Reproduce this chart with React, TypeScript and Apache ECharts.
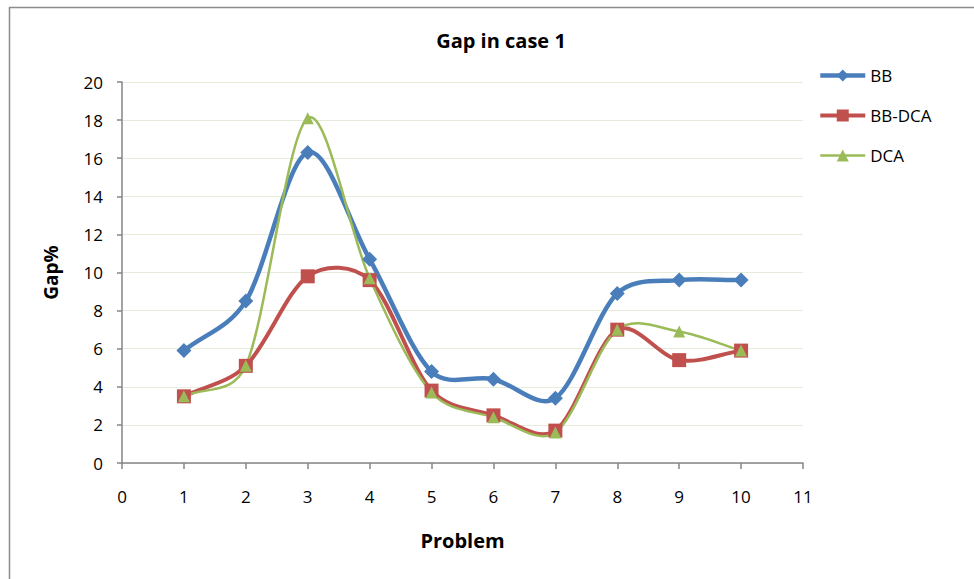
import React, { useEffect, useRef } from "react";
import * as echarts from "echarts";

const problems = [1, 2, 3, 4, 5, 6, 7, 8, 9, 10];
const bbValues = [5.9, 8.5, 16.3, 10.7, 4.8, 4.4, 3.4, 8.9, 9.6, 9.6];
const bbDcaValues = [3.5, 5.1, 9.8, 9.6, 3.8, 2.5, 1.7, 7.0, 5.4, 5.9];
const dcaValues = [3.5, 5.1, 18.1, 9.7, 3.7, 2.4, 1.6, 7.0, 6.9, 5.9];
const seriesNames = ["BB", "BB-DCA", "DCA"];

const FONT = "'Open Sans', sans-serif";
const COLORS = ["#4a7ebb", "#c0504d", "#9bbb59"];
const WIDTHS = [4.5, 4, 2.5];
const SYMBOLS = ["diamond", "rect", "triangle"];
const SIZES = [15, 14, 12];

function dist(a: number[], b: number[]) {
  return Math.hypot(b[0] - a[0], b[1] - a[1]);
}

function curveSeries(name: string, vals: number[], color: string, width: number) {
  return {
    name: name + "-curve",
    type: "custom",
    z: 1,
    silent: true,
    data: problems.map((p, i) => [p, vals[i]]),
    encode: { x: 0, y: 1 },
    renderItem: (params: any, api: any) => {
      if (params.dataIndex !== 0) return null;
      const pts = problems.map((p, i) => api.coord([p, vals[i]]));
      const n = pts.length;
      let d = `M${pts[0][0]},${pts[0][1]}`;
      for (let i = 0; i < n - 1; i++) {
        const p0 = pts[Math.max(0, i - 1)];
        const p1 = pts[i];
        const p2 = pts[i + 1];
        const p3 = pts[Math.min(n - 1, i + 2)];
        const d01 = dist(p0, p1);
        const d12 = dist(p1, p2);
        const d23 = dist(p2, p3);
        const f1 = d01 + d12 > 0 ? Math.min(1, Math.sqrt((2 * d12) / (d01 + d12))) / 6 : 1 / 6;
        const f2 = d12 + d23 > 0 ? Math.min(1, Math.sqrt((2 * d12) / (d12 + d23))) / 6 : 1 / 6;
        const e1 = i === 0 ? 2 : 1;
        const e2 = i + 2 > n - 1 ? 2 : 1;
        const c1x = p1[0] + (p2[0] - p0[0]) * f1 * e1;
        const c1y = p1[1] + (p2[1] - p0[1]) * f1 * e1;
        const c2x = p2[0] - (p3[0] - p1[0]) * f2 * e2;
        const c2y = p2[1] - (p3[1] - p1[1]) * f2 * e2;
        d += ` C${c1x},${c1y} ${c2x},${c2y} ${p2[0]},${p2[1]}`;
      }
      return {
        type: "path",
        shape: { pathData: d },
        style: { fill: "none", stroke: color, lineWidth: width, lineJoin: "round", lineCap: "round" },
      };
    },
  };
}

function markerSeries(idx: number, vals: number[]) {
  return {
    name: seriesNames[idx],
    type: "line",
    z: 3,
    data: problems.map((p, i) => [p, vals[i]]),
    symbol: SYMBOLS[idx],
    symbolSize: SIZES[idx],
    itemStyle: { color: COLORS[idx] },
    lineStyle: { color: COLORS[idx], width: WIDTHS[idx], opacity: 0 },
  };
}

export default function App() {
  const ref = useRef<HTMLDivElement>(null);
  useEffect(() => {
    if (!ref.current) return;
    const chart = echarts.init(ref.current, undefined, { renderer: "svg" });
    const allVals = [bbValues, bbDcaValues, dcaValues];
    chart.setOption({
      animation: false,
      backgroundColor: "#ffffff",
      textStyle: { fontFamily: FONT },
      title: {
        text: "Gap in case 1",
        left: 496,
        textAlign: "center",
        top: 25,
        textStyle: { fontFamily: FONT, fontSize: 20, fontWeight: "bold", color: "#000" },
      },
      graphic: [
        {
          type: "rect",
          shape: { x: 9.5, y: 7.5, width: 1000, height: 1000 },
          style: { fill: "none", stroke: "#8c8c8c", lineWidth: 1.5 },
          silent: true,
        },
      ],
      legend: {
        orient: "vertical",
        left: 818,
        top: 67,
        padding: 0,
        itemWidth: 45,
        itemHeight: 15,
        itemGap: 23,
        textStyle: { fontFamily: FONT, fontSize: 17, color: "#000" },
        data: seriesNames.map((n, i) => ({
          name: n,
          lineStyle: { color: COLORS[i], width: WIDTHS[i], opacity: 1 },
          itemStyle: { color: COLORS[i] },
        })),
      },
      grid: { left: 122, right: 974 - 803, top: 82, bottom: 579 - 463 },
      xAxis: {
        type: "value",
        min: 0,
        max: 11,
        interval: 1,
        name: "Problem",
        nameLocation: "middle",
        nameGap: 67,
        nameTextStyle: { fontFamily: FONT, fontSize: 20, fontWeight: "bold", color: "#000" },
        axisLine: { lineStyle: { color: "#868686", width: 1.5 } },
        axisTick: { show: true, length: 6, lineStyle: { color: "#868686", width: 1.5 } },
        axisLabel: { fontFamily: FONT, fontSize: 17, color: "#000", margin: 25 },
        splitLine: { show: false },
      },
      yAxis: {
        type: "value",
        min: 0,
        max: 20,
        interval: 2,
        name: "Gap%",
        nameLocation: "middle",
        nameGap: 62,
        nameRotate: 90,
        nameTextStyle: { fontFamily: FONT, fontSize: 19, fontWeight: "bold", color: "#000" },
        axisLine: { show: true, lineStyle: { color: "#868686", width: 1.5 } },
        axisTick: { show: true, length: 5, lineStyle: { color: "#868686", width: 1.5 } },
        axisLabel: { fontFamily: FONT, fontSize: 17, color: "#000", margin: 19 },
        splitLine: { show: true, lineStyle: { color: "#e6ecd9", width: 1.2 } },
      },
      series: [
        curveSeries("BB", bbValues, COLORS[0], WIDTHS[0]),
        curveSeries("BB-DCA", bbDcaValues, COLORS[1], WIDTHS[1]),
        curveSeries("DCA", dcaValues, COLORS[2], WIDTHS[2]),
        ...allVals.map((v, i) => markerSeries(i, v)),
      ],
    });
    return () => chart.dispose();
  }, []);
  return (
    <div
      ref={ref}
      style={{ position: "fixed", left: 0, top: 0, width: 974, height: 579, background: "#fff" }}
    />
  );
}
